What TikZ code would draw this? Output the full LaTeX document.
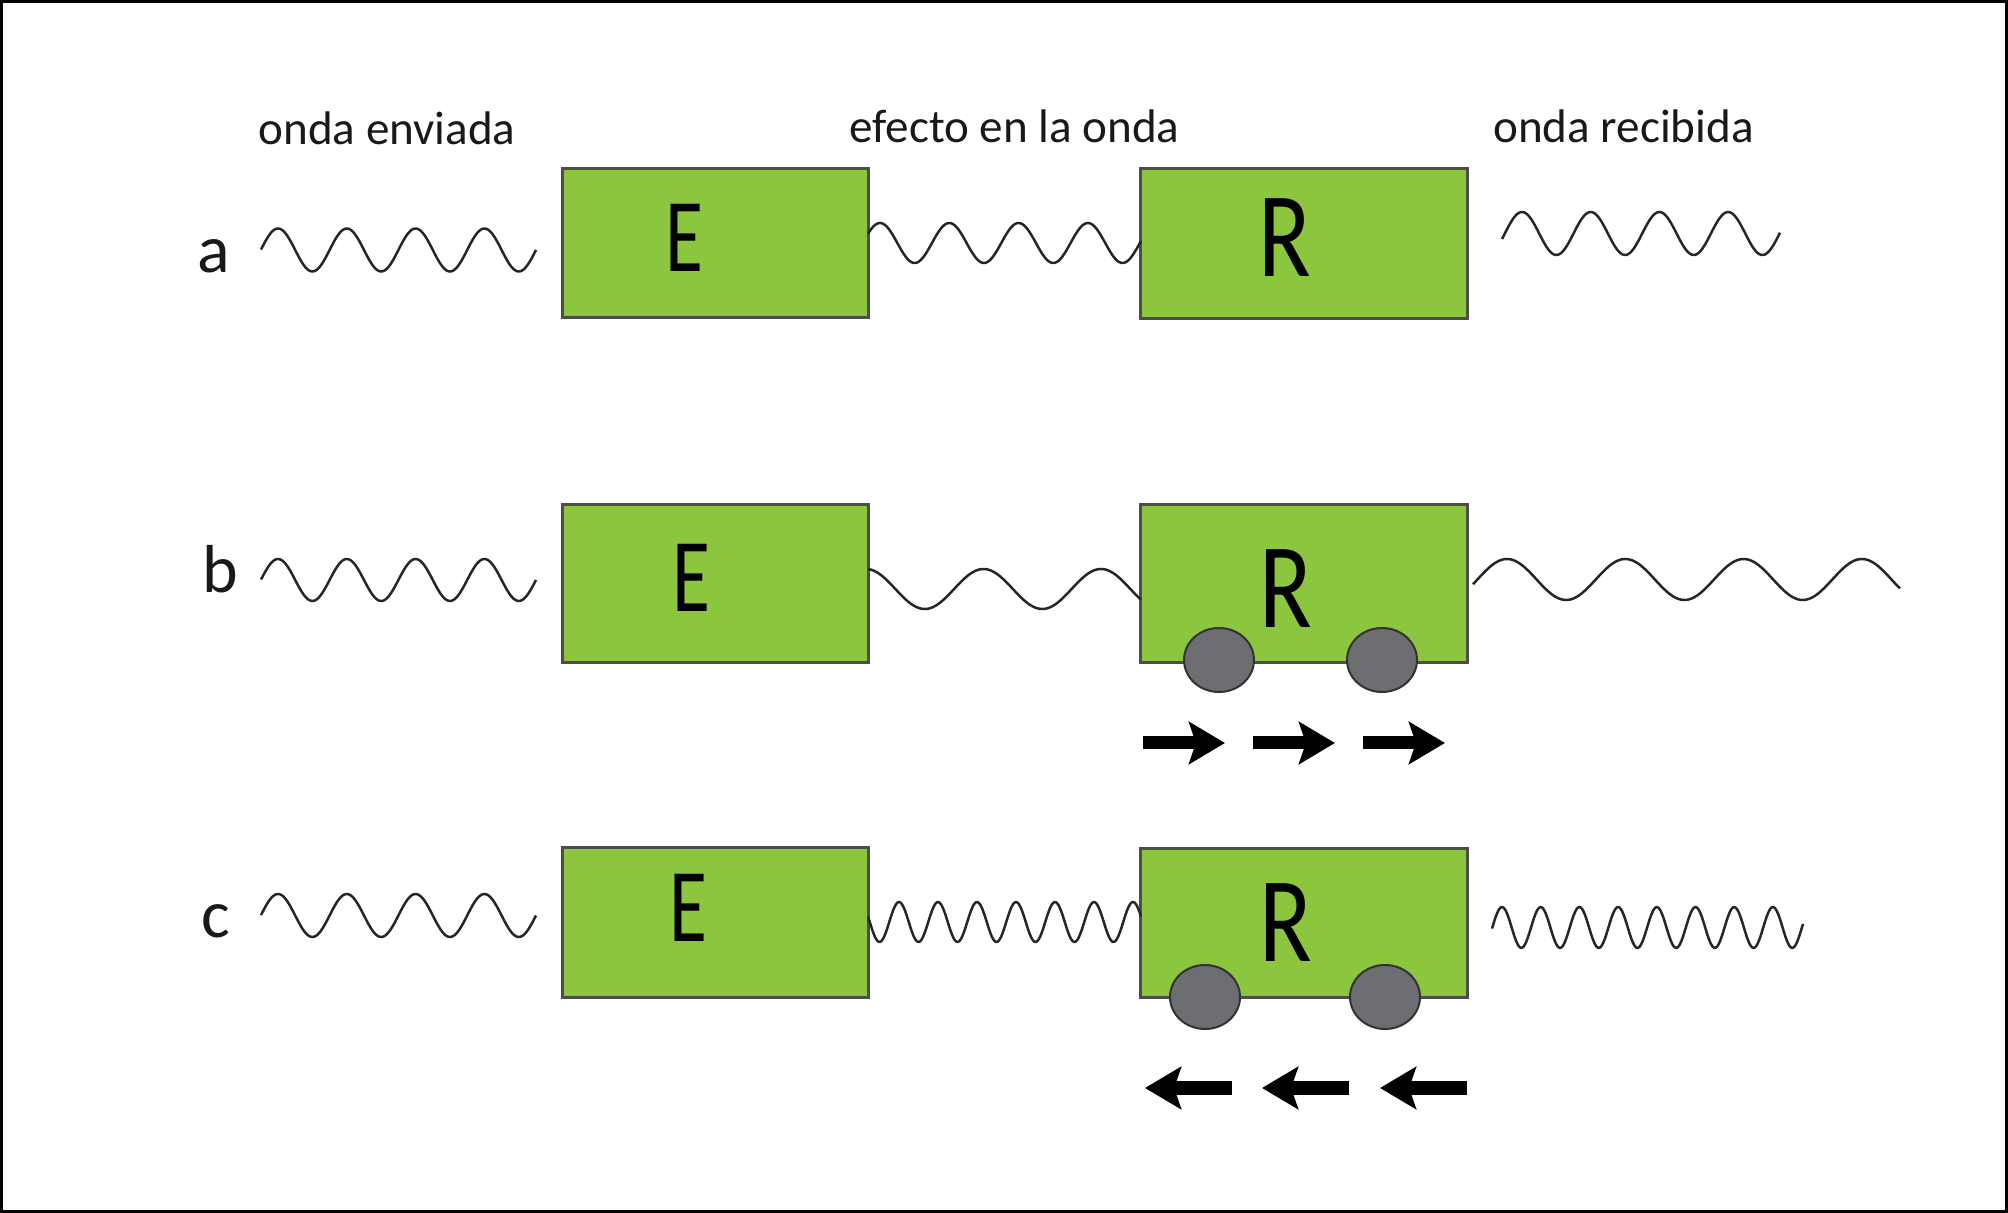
\documentclass[tikz,border=0pt]{standalone}
\usepackage{fontspec}
\setmainfont{Carlito}
\usetikzlibrary{arrows.meta}
\definecolor{boxgreen}{RGB}{140,198,63}
\definecolor{boxline}{RGB}{77,77,77}
\definecolor{wheelgray}{RGB}{109,110,113}

% wave: start, end, centre line, wave length, first crest, amplitude
\newcommand{\ondaplot}[6]{%
  \draw[wave] plot[domain=#1:#2, samples=180] (\x, {#3 - #6*cos((\x - #5)/#4*360)});}

\begin{document}
\begin{tikzpicture}[
        x=0.01cm, y=-0.01cm,
        box/.style={rectangle, draw=boxline, line width=0.03cm, fill=boxgreen, inner sep=0pt, outer sep=0pt},
        sendbox/.style={box, minimum width=3.05cm},
        recvbox/.style={box, minimum width=3.26cm},
        letter/.style={anchor=base, inner sep=0pt, text=black},
        header/.style={anchor=base, inner sep=0pt, text=black!90, font=\fontsize{13.4}{16}\selectfont},
        rowlabel/.style={anchor=base, inner sep=0pt, text=black!90, font=\fontsize{19.3}{23}\selectfont},
        wave/.style={line width=0.025cm, black!85, line join=round},
        wheel/.style={fill=wheelgray, draw=black!80, line width=0.02cm},
        push/.style={line width=0.13cm, -{Stealth[length=0.36cm, width=0.42cm, inset=0.07cm]}}
        ]

        \useasboundingbox (0,0) rectangle (2008,1213);
        \draw[line width=0.03cm] (1.5,1.5) rectangle (2006.5,1211.5);

        % Headers
        \node (title1) [header] at (387,145) {onda enviada};
        \node (title2) [header] at (1014.5,143) {efecto en la onda};
        \node (title3) [header] at (1623.5,143) {onda recibida};

        % Row labels
        \node (row1) [rowlabel] at (214,273) {a};
        \node (row2) [rowlabel] at (220,593) {b};
        \node (row3) [rowlabel] at (216,938) {c};

        % Boxes
        \node (sender1) [sendbox, minimum height=1.48cm] at (715.5,243) {};
        \node (sender2) [sendbox, minimum height=1.57cm] at (715.5,583.5) {};
        \node (sender3) [sendbox, minimum height=1.49cm] at (715.5,922.5) {};
        \node (receiver1) [recvbox, minimum height=1.49cm] at (1304,243.5) {};
        \node (receiver2) [recvbox, minimum height=1.57cm] at (1304,583.5) {};
        \node (receiver3) [recvbox, minimum height=1.48cm] at (1304,923) {};

        % Wheels
        \draw[wheel] (1219,660) ellipse (35 and 32);
        \draw[wheel] (1382,660) ellipse (35 and 32);
        \draw[wheel] (1205,997) ellipse (35 and 32);
        \draw[wheel] (1385,997) ellipse (35 and 32);

        % Letters
        \node (tagE1) [letter, font=\fontsize{29.8}{32}\selectfont] at (684,272) {\scalebox{0.74}[1]{E}};
        \node (tagE2) [letter, font=\fontsize{29.8}{32}\selectfont] at (691,612) {\scalebox{0.74}[1]{E}};
        \node (tagE3) [letter, font=\fontsize{29.8}{32}\selectfont] at (688,942) {\scalebox{0.74}[1]{E}};
        \node (tagR1) [letter, font=\fontsize{34.5}{36}\selectfont] at (1285,277) {\scalebox{0.8}[1]{R}};
        \node (tagR2) [letter, font=\fontsize{34.5}{36}\selectfont] at (1286,628) {\scalebox{0.8}[1]{R}};
        \node (tagR3) [letter, font=\fontsize{34.5}{36}\selectfont] at (1286,962) {\scalebox{0.8}[1]{R}};

        % Waves
        \ondaplot{261}{536}{250}{68.8}{278}{21.5}
        \ondaplot{868}{1141}{243}{69.3}{880}{20}
        \ondaplot{1502}{1780}{233.5}{68.7}{1522}{21.5}

        \ondaplot{261}{536}{580}{68.8}{278}{21}
        \ondaplot{868}{1141}{589}{117.5}{866}{20}
        \ondaplot{1473}{1900}{579.5}{118.3}{1507}{20.5}

        \ondaplot{261}{536}{915.5}{68.8}{278}{21.5}
        \ondaplot{868}{1141}{922}{39}{899}{20}
        \ondaplot{1492}{1803}{927.5}{38.7}{1502}{20.5}

        % Motion arrows
        \foreach \x in {1143,1253,1363}
            \draw[push] (\x,743) -- ++(82,0);
        \foreach \x in {1232,1349,1467}
            \draw[push] (\x,1088) -- ++(-87,0);

    \end{tikzpicture}
\end{document}
